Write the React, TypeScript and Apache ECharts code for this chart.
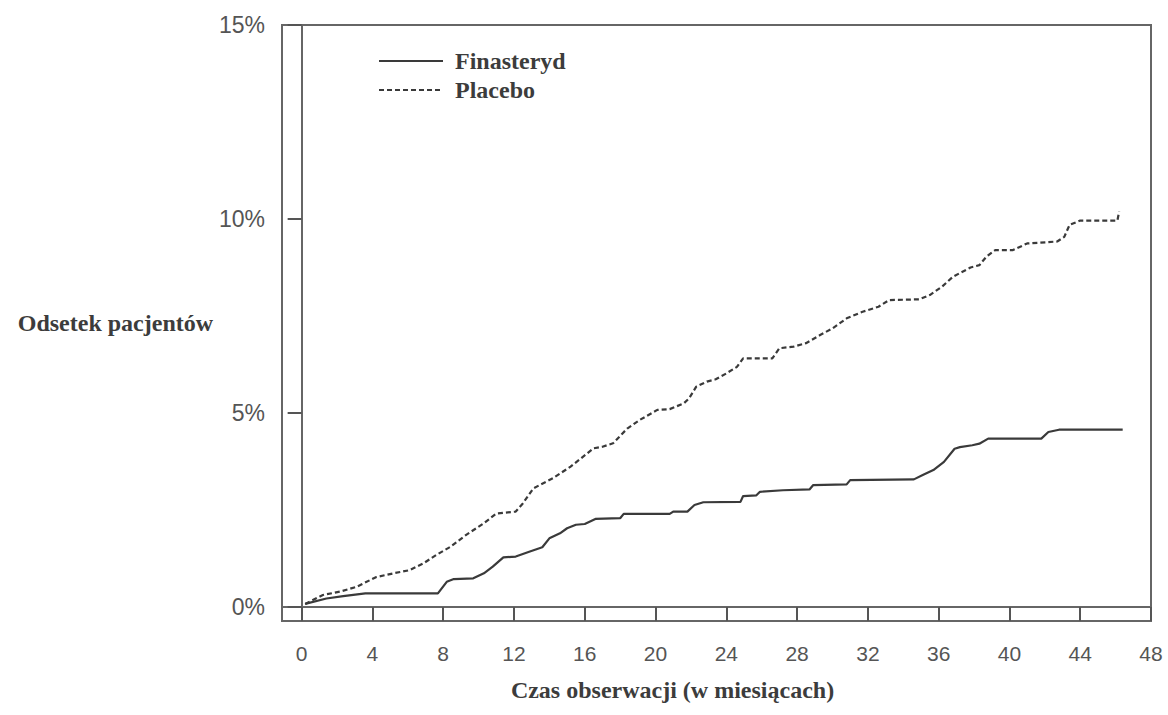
import React, { useEffect, useRef } from "react";
import * as echarts from "echarts";

const finMonths = [0.2, 1.4, 2.35, 3.6, 7.7, 8.2, 8.6, 9.7, 10.3, 10.8, 11.4, 12.1, 12.9, 13.6, 14.0, 14.6, 15.0, 15.5, 16.0, 16.6, 18.0, 18.2, 20.8, 21.0, 21.8, 22.2, 22.7, 24.8, 24.95, 25.7, 25.9, 27.2, 28.7, 28.9, 30.8, 31.0, 34.6, 35.1, 35.7, 36.3, 36.9, 37.2, 37.9, 38.3, 38.8, 41.8, 42.2, 42.8, 46.4];
const finPct = [0.08, 0.22, 0.28, 0.35, 0.35, 0.65, 0.72, 0.74, 0.87, 1.04, 1.28, 1.3, 1.43, 1.54, 1.77, 1.9, 2.03, 2.12, 2.14, 2.27, 2.29, 2.4, 2.4, 2.46, 2.46, 2.63, 2.7, 2.71, 2.86, 2.88, 2.97, 3.01, 3.03, 3.14, 3.16, 3.27, 3.29, 3.4, 3.53, 3.74, 4.08, 4.12, 4.17, 4.21, 4.34, 4.34, 4.51, 4.57, 4.57];

const plaMonths = [0.2, 1.2, 2.2, 3.1, 4.2, 5.2, 6.1, 6.9, 7.6, 8.4, 9.3, 10.3, 11.0, 12.1, 12.5, 13.1, 14.2, 15.2, 15.7, 16.5, 17.0, 17.6, 18.4, 19.1, 20.1, 20.8, 21.6, 21.9, 22.3, 22.9, 23.4, 24.0, 24.6, 24.95, 26.6, 27.0, 27.8, 28.5, 29.3, 30.0, 30.8, 31.7, 32.6, 33.2, 34.9, 35.5, 36.2, 36.8, 37.8, 38.3, 38.7, 39.2, 40.2, 41.0, 42.7, 43.1, 43.4, 44.0, 46.1, 46.2];
const plaPct = [0.08, 0.31, 0.4, 0.52, 0.77, 0.87, 0.95, 1.13, 1.34, 1.55, 1.86, 2.16, 2.41, 2.46, 2.67, 3.06, 3.32, 3.62, 3.8, 4.09, 4.13, 4.22, 4.6, 4.82, 5.08, 5.1, 5.25, 5.38, 5.68, 5.81, 5.87, 6.02, 6.19, 6.41, 6.41, 6.67, 6.71, 6.8, 7.01, 7.18, 7.44, 7.61, 7.74, 7.91, 7.93, 8.04, 8.26, 8.51, 8.75, 8.81, 9.03, 9.2, 9.2, 9.37, 9.42, 9.54, 9.85, 9.96, 9.96, 10.19];

const xTicks = [0, 4, 8, 12, 16, 20, 24, 28, 32, 36, 40, 44, 48];
const yTicks = [0, 5, 10, 15];
const seriesNames = ["Finasteryd", "Placebo"];
const xTitle = "Czas obserwacji (w miesiącach)";
const yTitle = "Odsetek pacjentów";

const zip = (a: number[], b: number[]) => a.map((v, i) => [v, b[i]]);

export default function App() {
  const ref = useRef<HTMLDivElement>(null);
  useEffect(() => {
    if (!ref.current) return;
    const chart = echarts.init(ref.current, null, { renderer: "svg" });
    const serif = "'Liberation Serif', 'Times New Roman', serif";
    const sans = "'Liberation Sans', Arial, sans-serif";
    chart.setOption({
      animation: false,
      backgroundColor: "#fff",
      grid: {
        left: 282,
        right: 17,
        top: 25,
        bottom: 94,
        show: true,
        borderColor: "#666",
        borderWidth: 2,
      },
      legend: {
        orient: "vertical",
        left: 373,
        top: 44,
        itemWidth: 64,
        itemHeight: 14,
        itemGap: 5,
        data: seriesNames,
        itemStyle: { opacity: 0 },
        textStyle: {
          fontFamily: serif,
          fontWeight: "bold",
          fontSize: 24,
          color: "#3c3c3c",
          padding: [0, 0, 0, 7],
        },
      },
      xAxis: {
        type: "value",
        min: -1.11,
        max: 48,
        splitLine: { show: false },
        axisLine: { show: true, lineStyle: { color: "#666", width: 2 } },
        axisTick: {
          show: true,
          inside: false,
          length: 14,
          customValues: xTicks,
          lineStyle: { color: "#555", width: 2 },
        },
        axisLabel: {
          customValues: xTicks,
          margin: 22,
          fontFamily: sans,
          fontSize: 21,
          color: "#555",
        },
        name: xTitle,
        nameLocation: "middle",
        nameGap: 57,
        nameTextStyle: {
          fontFamily: serif,
          fontWeight: "bold",
          fontSize: 24,
          color: "#3c3c3c",
          padding: [0, 88, 0, 0],
        },
      },
      yAxis: {
        type: "value",
        min: -0.36,
        max: 15,
        splitLine: { show: false },
        axisLine: { show: true, lineStyle: { color: "#666", width: 2 } },
        axisTick: {
          show: true,
          inside: false,
          length: 14,
          customValues: yTicks,
          lineStyle: { color: "#555", width: 2 },
        },
        axisLabel: {
          customValues: yTicks,
          margin: 17,
          fontFamily: sans,
          fontSize: 23,
          color: "#555",
          formatter: "{value}%",
        },
        name: yTitle,
        nameLocation: "middle",
        nameRotate: 0,
        nameGap: 67,
        nameTextStyle: {
          fontFamily: serif,
          fontWeight: "bold",
          fontSize: 24,
          color: "#3c3c3c",
          align: "right",
        },
      },
      series: [
        {
          name: seriesNames[0],
          type: "line",
          data: zip(finMonths, finPct),
          symbol: "none",
          lineStyle: { color: "#3a3a3a", width: 2.2, type: "solid" },
          itemStyle: { color: "#3a3a3a" },
        },
        {
          name: seriesNames[1],
          type: "line",
          data: zip(plaMonths, plaPct),
          symbol: "none",
          lineStyle: { color: "#3a3a3a", width: 2.2, type: [5, 3] },
          itemStyle: { color: "#3a3a3a" },
        },
      ],
    });
    return () => chart.dispose();
  }, []);
  return (
    <div
      ref={ref}
      style={{ position: "fixed", left: 0, top: 0, width: 1168, height: 715 }}
    />
  );
}
